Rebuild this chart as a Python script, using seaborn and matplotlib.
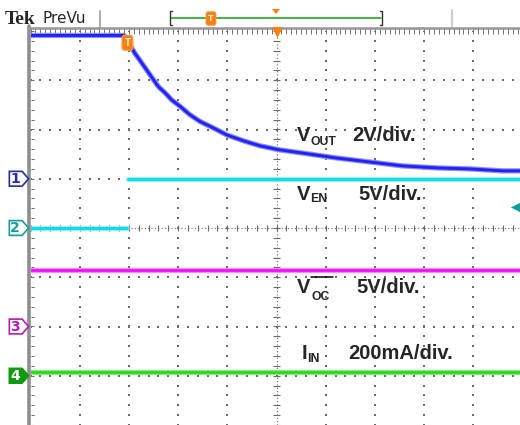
import numpy as np
import pandas as pd
import matplotlib.pyplot as plt
from matplotlib.lines import Line2D
from matplotlib.patches import Polygon
import seaborn as sns

# scope screen is 10 x 8 divisions, centre at (0, 0); values below are in divisions
vout_t = [-5.0, -3.10, -3.04, -2.98, -2.88, -2.78, -2.64, -2.50, -2.40, -2.26, -2.13, -1.96,
          -1.76, -1.55, -1.28, -1.01, -0.67, -0.34, 0.04, 0.54, 1.23, 1.90, 2.57, 3.26,
          3.93, 4.60, 5.0]
vout_v = [3.91, 3.91, 3.84, 3.72, 3.55, 3.41, 3.21, 3.01, 2.87, 2.74, 2.60, 2.47,
          2.30, 2.16, 2.03, 1.89, 1.77, 1.67, 1.59, 1.52, 1.42, 1.34, 1.26, 1.22,
          1.20, 1.16, 1.16]

ven_t = [-5.0, -3.04, -3.02, 5.0]
ven_v = [0.01, 0.01, 0.99, 0.99]
ven_seg = [0, 0, 1, 1]

voc_t = [-5.0, 5.0]
voc_v = [-0.86, -0.86]

iin_t = [-5.0, 5.0]
iin_v = [-2.93, -2.93]

# channel ground markers on the left edge
ch_names = ['1', '2', '3', '4']
ch_levels = [1.0, 0.0, -2.0, -3.0]
ch_edge = ['#2a2aa8', '#129c9c', '#b21cb2', '#0f9a0f']
ch_face = ['white', 'white', 'white', '#0f9a0f']
ch_text = ['#2a2aa8', '#129c9c', '#b21cb2', 'white']

trig_time = -3.03
trig_level = 0.43

labels_main = ['V', 'V', 'V', 'I']
labels_sub = ['OUT', 'EN', 'OC', 'IN']
labels_scale = ['2V/div.', '5V/div.', '5V/div.', '200mA/div.']

W, H = 520, 425


def fx(x):
    return x / W


def fy(y):
    return 1 - y / H


sns.set_style("white")
plt.rcParams['font.family'] = ['Liberation Sans', 'DejaVu Sans']

fig = plt.figure(figsize=(W / 100, H / 100), dpi=100)
ax = fig.add_axes([fx(30.5), 0, 492 / W, 394 / H])
ax.set_xlim(-5, 5)
ax.set_ylim(-4, 4)
ax.axis('off')

# graticule dots
grid_col = '#6a6a6a'
steps_y = np.arange(-4, 4.01, 0.2)
steps_x = np.arange(-5, 5.01, 0.2)
for gx in range(-4, 5):
    if gx != 0:
        ax.scatter(np.full(len(steps_y), gx), steps_y, s=0.9, marker='s', color=grid_col, linewidths=0, zorder=1)
for gy in range(-3, 4):
    if gy != 0:
        ax.scatter(steps_x, np.full(len(steps_x), gy), s=0.9, marker='s', color=grid_col, linewidths=0, zorder=1)

# centre cross with minor ticks
ax.axhline(0, color=grid_col, lw=0.8, ls=(0, (1, 2)), zorder=1)
ax.axvline(0, color=grid_col, lw=0.8, ls=(0, (1, 2)), zorder=1)
ax.vlines(steps_x, -0.07, 0.07, color=grid_col, lw=0.8, zorder=1)
ax.hlines(steps_y, -0.07, 0.07, color=grid_col, lw=0.8, zorder=1)

# left and top edges
ax.plot([-5.03, -5.03], [-4.2, 4.1], color='#8e8e8e', lw=2.6, clip_on=False, zorder=2)
ax.hlines(steps_y, -5.0, -4.93, color='#707070', lw=0.8, clip_on=False, zorder=2)
ax.plot([-5.06, 5.2], [4.065, 4.065], color='#9a9a9a', lw=1.9, clip_on=False, zorder=2)
ax.vlines(np.arange(-5, 5.01, 0.1), 3.93, 4.04, color='#707070', lw=0.7, clip_on=False, zorder=2)

# traces (light halo + core)
sns.lineplot(x=vout_t, y=vout_v, ax=ax, color='#8c8cff', lw=3.8, sort=False, estimator=None,
             solid_joinstyle='round', zorder=3)
sns.lineplot(x=vout_t, y=vout_v, ax=ax, color='#2323f0', lw=2.1, sort=False, estimator=None,
             solid_joinstyle='round', zorder=4)

ven = pd.DataFrame({'t': ven_t, 'v': ven_v, 'seg': ven_seg})
sns.lineplot(data=ven, x='t', y='v', units='seg', estimator=None, ax=ax, color='#80f0f0', lw=3.4, sort=False, zorder=3)
sns.lineplot(data=ven, x='t', y='v', units='seg', estimator=None, ax=ax, color='#14d8e6', lw=2.1, sort=False, zorder=4)

sns.lineplot(x=voc_t, y=voc_v, ax=ax, color='#ff80ff', lw=3.5, estimator=None, zorder=3)
sns.lineplot(x=voc_t, y=voc_v, ax=ax, color='#f014f0', lw=2.0, estimator=None, zorder=4)

sns.lineplot(x=iin_t, y=iin_v, ax=ax, color='#8cf070', lw=3.7, estimator=None, zorder=3)
sns.lineplot(x=iin_t, y=iin_v, ax=ax, color='#2ed82e', lw=2.1, estimator=None, zorder=4)

# channel markers
for name, lev, ec, fc, tc in zip(ch_names, ch_levels, ch_edge, ch_face, ch_text):
    h = 0.15
    pts = [(-5.43, lev - h), (-5.17, lev - h), (-5.04, lev), (-5.17, lev + h), (-5.43, lev + h)]
    ax.add_patch(Polygon(pts, closed=True, fc=fc, ec=ec, lw=1.2, clip_on=False, zorder=5))
    ax.text(-5.31, lev - 0.01, name, color=tc, fontsize=10, fontweight='bold', ha='center', va='center',
            family=['DejaVu Sans'], clip_on=False, zorder=6)

# trigger markers
ax.text(trig_time, 3.76, 'T', color='white', fontsize=7, fontweight='bold', ha='center', va='center',
        bbox=dict(boxstyle='round,pad=0.25', fc='#ff7f0e', ec='#ff9a40', lw=0.8), zorder=7)
ax.scatter([0], [3.98], marker='v', s=60, color='#ff7f0e', linewidths=0, clip_on=False, zorder=7)
ax.scatter([4.84], [trig_level], marker='<', s=45, color='#0aa0a0', linewidths=0, clip_on=False, zorder=7)
ax.plot([4.9, 5.0], [trig_level, trig_level], color='#0aa0a0', lw=1.3, clip_on=False, zorder=7)

# header
fig.text(fx(5), fy(23.5), 'Tek', fontsize=14, fontweight='bold', family=['Liberation Serif'], va='baseline')
fig.text(fx(43), fy(23), 'PreVu', fontsize=11, family=['DejaVu Sans'], va='baseline')
fig.add_artist(Line2D([fx(100), fx(100)], [fy(11), fy(27)], color='#a0a0a0', lw=1.2, transform=fig.transFigure))
fig.add_artist(Line2D([fx(452), fx(452)], [fy(10), fy(26)], color='#cfcfcf', lw=1.6, transform=fig.transFigure))
fig.add_artist(Line2D([fx(171), fx(381)], [fy(18), fy(18)], color='#12a012', lw=1.1, transform=fig.transFigure))
for bx, d in [(170, 2), (382, -2)]:
    fig.add_artist(Line2D([fx(bx + d), fx(bx), fx(bx), fx(bx + d)], [fy(11), fy(11), fy(25), fy(25)],
                          color='#333333', lw=1.0, transform=fig.transFigure))
fig.text(fx(211), fy(18.5), 'T', color='white', fontsize=6.5, fontweight='bold', ha='center', va='center',
         bbox=dict(boxstyle='round,pad=0.25', fc='#ff7f0e', ec='#ff9a40', lw=0.6))
fig.add_artist(Polygon([(fx(272), fy(9)), (fx(280), fy(9)), (fx(276), fy(14))], closed=True,
                       fc='#ff7f0e', ec='none', transform=fig.transFigure))

# channel scale labels
main_x = [297, 297, 297, 302]
sub_x = [310.5, 310.5, 311, 307.5]
base_y = [141, 200, 293, 359]
sub_y = [144.5, 202.5, 299.5, 362.5]
scale_x = [352, 358, 356, 348]
for m, s, sc, mx, sx, by, sy, scx in zip(labels_main, labels_sub, labels_scale, main_x, sub_x, base_y, sub_y, scale_x):
    fig.text(fx(mx), fy(by), m, fontsize=14.5, fontweight='bold', va='baseline')
    fig.text(fx(sx), fy(sy), s, fontsize=8.8, fontweight='bold', va='baseline')
    fig.text(fx(scx), fy(by), sc, fontsize=14.5, fontweight='bold', va='baseline')
    if s == 'OC':
        fig.add_artist(Line2D([fx(sx), fx(sx + 22)], [fy(276.5), fy(276.5)], color='black', lw=1.1,
                              transform=fig.transFigure))

fig.savefig('out.png', dpi=100)
